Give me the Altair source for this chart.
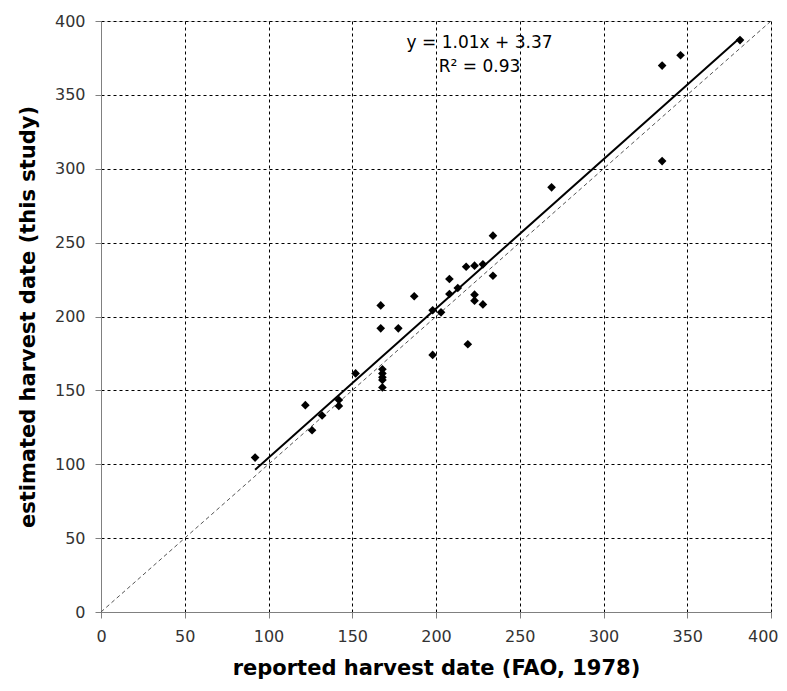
import altair as alt
import pandas as pd

reported = [92, 122, 126, 132, 142, 142, 152, 168, 168, 168, 168, 168, 167, 167,
            177.5, 187, 198, 198, 203, 208, 208, 213, 218, 219, 223, 223, 223,
            228, 228, 234, 234, 269, 335, 335, 346, 381.5]
estimated = [104.5, 140, 123, 133, 143.5, 139.5, 161.5, 164.3, 161.5, 158.8, 157, 152, 192, 207.5,
             192, 213.7, 174, 204.2, 202.8, 225.4, 215.2, 219.3, 233.7, 181.2, 234.4, 214.8, 210.7,
             235.3, 208.2, 254.7, 227.6, 287.4, 369.8, 305.2, 376.8, 387.1]

slope = 1.01
intercept = 3.37
eq_lines = ["y = 1.01x + 3.37", "R² = 0.93"]
eq_x = [226, 226]
eq_y = [385, 369]

pts = pd.DataFrame({"x": reported, "y": estimated})
reg = pd.DataFrame({"x": [min(reported), max(reported)]})
reg["y"] = slope * reg["x"] + intercept
one = pd.DataFrame({"x": [0, 400], "y": [0, 400]})
txt = pd.DataFrame({"x": eq_x, "y": eq_y, "t": eq_lines})

xs = alt.Scale(domain=[0, 400], nice=False, zero=False)
ys = alt.Scale(domain=[0, 400], nice=False, zero=False)

common = dict(grid=True, gridColor="black", gridDash=[3, 3], gridWidth=1,
              domainColor="#808080", tickColor="#808080", tickSize=6,
              labelFont="DejaVu Sans", labelFontSize=16, labelColor="#333333",
              titleFont="DejaVu Sans", titleFontSize=21, titleFontWeight="bold",
              titleColor="black", labelFlush=False)

xax = alt.Axis(values=list(range(0, 401, 50)), title="reported harvest date (FAO, 1978)",
               labelPadding=10, titlePadding=13,
               labelAlign=alt.expr("datum.value == 400 ? 'right' : 'center'"),
               labelOffset=alt.expr("datum.value == 400 ? 7 : 0"),
               **common)
yax = alt.Axis(values=list(range(0, 401, 50)), title="estimated harvest date (this study)",
               labelPadding=10, titlePadding=16, **common)

base_pts = alt.Chart(pts).mark_point(shape="diamond", filled=True, color="black",
                                     size=75, opacity=1).encode(
    x=alt.X("x:Q", scale=xs, axis=xax),
    y=alt.Y("y:Q", scale=ys, axis=yax),
)

one_line = alt.Chart(one).mark_line(color="#555555", strokeDash=[4, 3], strokeWidth=1).encode(
    x=alt.X("x:Q", scale=xs), y=alt.Y("y:Q", scale=ys))

reg_line = alt.Chart(reg).mark_line(color="black", strokeWidth=2).encode(
    x=alt.X("x:Q", scale=xs), y=alt.Y("y:Q", scale=ys))

text = alt.Chart(txt).mark_text(font="DejaVu Sans", fontSize=17, color="black",
                                align="center", baseline="middle").encode(
    x=alt.X("x:Q", scale=xs), y=alt.Y("y:Q", scale=ys), text="t:N")

chart = alt.layer(one_line, reg_line, base_pts, text).properties(
    width=670, height=591,
    autosize=alt.AutoSizeParams(type="none"),
    padding={"left": 93, "top": 13, "right": 8, "bottom": 70},
).configure_view(stroke=None).configure(background="white")

chart.save("out.html", embed_options={"renderer": "svg", "actions": False})
